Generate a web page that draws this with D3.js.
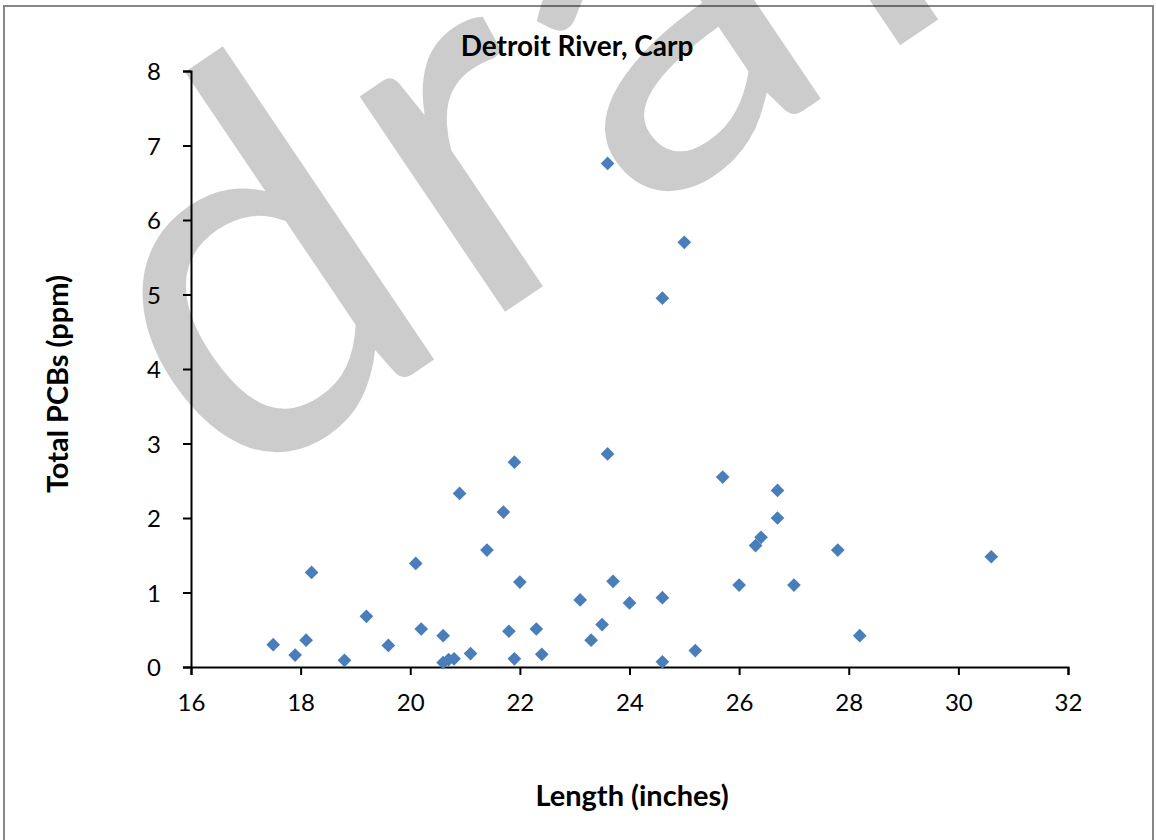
<!DOCTYPE html>
<html><head><meta charset="utf-8">
<script src="https://cdn.jsdelivr.net/npm/d3@7"></script>
<style>body{margin:0;background:#fff}svg{display:block}</style>
</head><body>
<script>
const title = "Detroit River, Carp";
const xTitle = "Length (inches)";
const yTitle = "Total PCBs (ppm)";
const watermark = "draft";
const xTicks = [16,18,20,22,24,26,28,30,32];
const yTicks = [0,1,2,3,4,5,6,7,8];
const lengthIn = [17.5,17.9,18.1,18.2,18.8,19.2,19.6,20.1,20.2,20.6,20.6,20.7,20.8,21.1,20.9,21.4,21.7,21.9,21.8,21.9,22.0,22.3,22.4,23.1,23.3,23.5,23.6,23.7,24.0,24.6,24.6,25.2,25.7,26.0,26.3,26.4,26.7,26.7,27.0,27.8,28.2,30.6,23.6,25.0,24.6];
const pcbPpm  = [0.30,0.16,0.36,1.27,0.09,0.68,0.29,1.39,0.51,0.42,0.06,0.10,0.11,0.18,2.33,1.57,2.08,2.75,0.48,0.11,1.14,0.51,0.17,0.90,0.36,0.57,2.86,1.15,0.86,0.93,0.07,0.22,2.55,1.10,1.63,1.74,2.00,2.37,1.10,1.57,0.42,1.48,6.76,5.70,4.95];

const W = 1156, H = 840;
const svg = d3.select("body").append("svg").attr("width", W).attr("height", H);
const font = "Lato, 'Open Sans', sans-serif";

svg.append("rect").attr("x",4).attr("y",6).attr("width",1149).attr("height",840)
  .attr("fill","#fff").attr("stroke","#868686").attr("stroke-width",2);

const x = d3.scaleLinear().domain([16,32]).range([191,1068]);
const y = d3.scaleLinear().domain([0,8]).range([667,71]);

const xAxis = svg.append("g").attr("transform","translate(0,667)")
  .call(d3.axisBottom(x).tickValues(xTicks).tickSize(8).tickPadding(19).tickFormat(d3.format("d")));
const yAxis = svg.append("g").attr("transform","translate(191,0)")
  .call(d3.axisLeft(y).tickValues(yTicks).tickSize(8).tickPadding(22).tickFormat(d3.format("d")));
[xAxis,yAxis].forEach(g=>{
  g.select(".domain").attr("stroke","#000").attr("stroke-width",2);
  g.selectAll(".tick line").attr("stroke","#000").attr("stroke-width",2);
  g.selectAll(".tick text").attr("font-family",font).attr("font-size",24).attr("fill","#000");
});
yAxis.selectAll(".tick text").attr("dy","0.36em");

const pts = lengthIn.map((v,i)=>({x:v,y:pcbPpm[i]}));
svg.append("g").selectAll("path").data(pts).join("path")
  .attr("d", d3.symbol().type(d3.symbolDiamond2).size(120))
  .attr("transform", d=>`translate(${x(d.x)},${y(d.y)})`)
  .attr("fill","#4a7ebb");

svg.append("text").attr("x",577).attr("y",56).attr("text-anchor","middle")
  .attr("font-family",font).attr("font-weight","bold").attr("font-size",28).text(title);
svg.append("text").attr("x",632).attr("y",806).attr("text-anchor","middle")
  .attr("font-family",font).attr("font-weight","bold").attr("font-size",29).text(xTitle);
svg.append("text").attr("transform","translate(68,384) rotate(-90)").attr("text-anchor","middle")
  .attr("font-family",font).attr("font-weight","bold").attr("font-size",29).text(yTitle);

svg.append("text").attr("transform","translate(226,500) rotate(-34)")
  .attr("font-family",font).attr("font-size",513).attr("letter-spacing",13)
  .attr("fill","#000").attr("fill-opacity",0.2)
  .text(watermark);
</script>
</body></html>
